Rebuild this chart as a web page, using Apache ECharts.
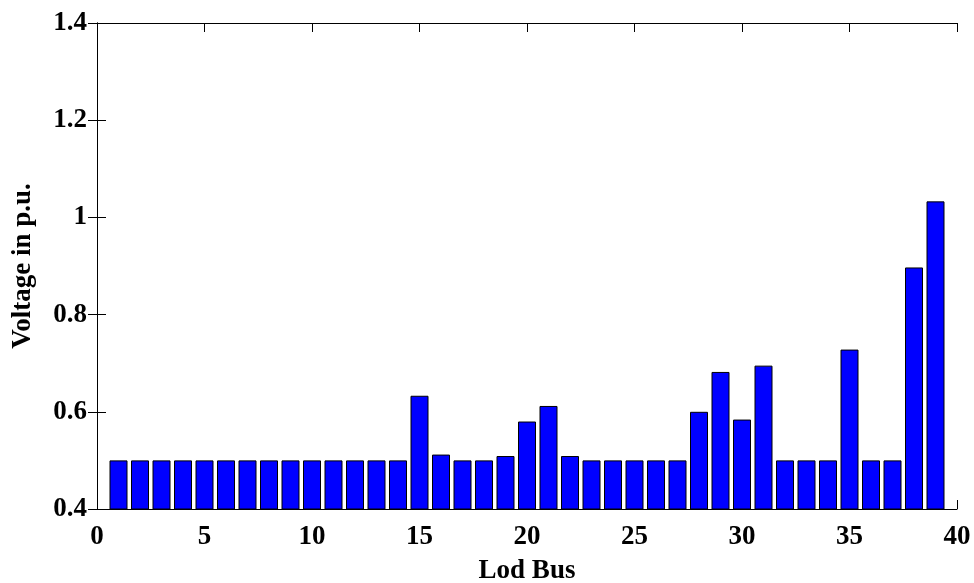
<!DOCTYPE html>
<html>
<head>
<meta charset="utf-8">
<script src="https://cdn.jsdelivr.net/npm/echarts@6/dist/echarts.min.js"></script>
<style>
  html, body { margin: 0; padding: 0; background: #fff; }
  #chart { width: 974px; height: 583px; }
</style>
</head>
<body>
<div id="chart"></div>
<script>
// load bus numbers and voltages
var busNumbers = [1, 2, 3, 4, 5, 6, 7, 8, 9, 10, 11, 12, 13, 14, 15, 16, 17, 18, 19, 20,
    21, 22, 23, 24, 25, 26, 27, 28, 29, 30, 31, 32, 33, 34, 35, 36, 37, 38, 39];
var voltages = [0.5, 0.5, 0.5, 0.5, 0.5, 0.5, 0.5, 0.5, 0.5, 0.5, 0.5, 0.5, 0.5, 0.5, 0.633, 0.512, 0.5, 0.5, 0.509, 0.58,
    0.612, 0.509, 0.5, 0.5, 0.5, 0.5, 0.5, 0.6, 0.682, 0.584, 0.695, 0.5, 0.5, 0.5, 0.728, 0.5, 0.5, 0.897, 1.033];

var xTicks = [0, 40, 5];
var yTicks = [0.4, 1.4, 0.2];

var font = 'Liberation Serif';

var barData = [];
busNumbers.forEach(function (b, i) {
    barData.push([b, voltages[i]]);
});

var myChart = echarts.init(document.getElementById('chart'));

var frameLine = { show: true, lineStyle: { color: '#000', width: 1 } };
var insideTick = { show: true, inside: true, length: 9, lineStyle: { color: '#000' } };
var labelStyle = { fontFamily: font, fontWeight: 'bold', fontSize: 27, color: '#000' };

option = {
    animation: false,
    backgroundColor: '#fff',
    grid: {
        left: 97,
        right: 17,
        top: 23,
        bottom: 74,
        containLabel: false,
        outerBoundsMode: 'none'
    },
    xAxis: [{
        type: 'value',
        min: xTicks[0],
        max: xTicks[1],
        interval: xTicks[2],
        name: 'Lod Bus',
        nameLocation: 'middle',
        nameGap: 49,
        nameTextStyle: labelStyle,
        axisLine: frameLine,
        axisTick: insideTick,
        splitLine: { show: false },
        axisLabel: Object.assign({ margin: 15 }, labelStyle)
    }, {
        type: 'value',
        position: 'top',
        min: xTicks[0],
        max: xTicks[1],
        interval: xTicks[2],
        axisLine: frameLine,
        axisTick: insideTick,
        splitLine: { show: false },
        axisLabel: { show: false }
    }],
    yAxis: [{
        type: 'value',
        min: yTicks[0],
        max: yTicks[1],
        interval: yTicks[2],
        name: 'Voltage in p.u.',
        nameLocation: 'middle',
        nameGap: 60,
        nameTextStyle: labelStyle,
        axisLine: frameLine,
        axisTick: insideTick,
        splitLine: { show: false },
        axisLabel: Object.assign({
            margin: 10,
            formatter: function (v) {
                return Math.abs(v - 1) < 1e-9 ? '1' : v.toFixed(1);
            }
        }, labelStyle)
    }, {
        type: 'value',
        position: 'right',
        min: yTicks[0],
        max: yTicks[1],
        interval: yTicks[2],
        axisLine: frameLine,
        axisTick: insideTick,
        splitLine: { show: false },
        axisLabel: { show: false }
    }],
    series: [{
        type: 'bar',
        data: barData,
        barWidth: 18,
        itemStyle: {
            color: '#0000ff',
            borderColor: '#000',
            borderWidth: 1
        }
    }]
};

myChart.setOption(option);
</script>
</body>
</html>
